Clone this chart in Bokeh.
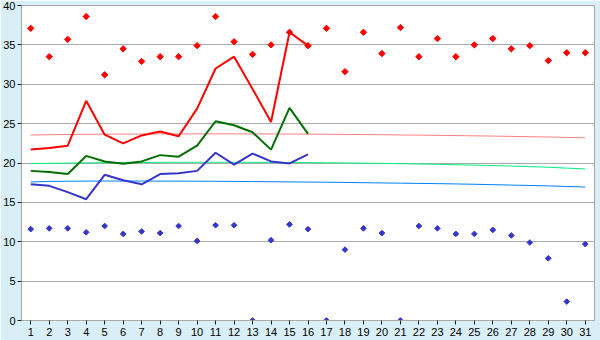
import math
from bokeh.plotting import figure
from bokeh.models import Range1d, FixedTicker
from bokeh.embed import file_html
from bokeh.resources import INLINE

days = list(range(1, 32))
line_days = list(range(1, 17))

max_temp = [37.1, 33.5, 35.7, 38.6, 31.2, 34.5, 32.9, 33.5, 33.5, 34.9,
            38.6, 35.4, 33.8, 35.0, 36.6, 34.9, 37.1, 31.6, 36.6, 33.9,
            37.2, 33.5, 35.8, 33.5, 35.0, 35.8, 34.5, 34.9, 33.0, 34.0, 34.0]
min_temp = [11.6, 11.7, 11.7, 11.2, 12.0, 11.0, 11.3, 11.1, 12.0, 10.1,
            12.1, 12.1, 0.0, 10.2, 12.2, 11.6, 0.0, 9.0, 11.7, 11.1,
            0.0, 12.0, 11.7, 11.0, 11.0, 11.5, 10.8, 9.9, 7.9, 2.4, 9.7]

red_line = [21.7, 21.9, 22.2, 27.9, 23.6, 22.5, 23.5, 24.0, 23.4, 26.9,
            32.0, 33.5, 29.4, 25.2, 36.6, 34.9]
green_line = [19.0, 18.85, 18.6, 20.9, 20.2, 19.9, 20.2, 21.0, 20.8, 22.2,
              25.3, 24.8, 23.9, 21.7, 27.0, 23.7]
blue_line = [17.3, 17.1, 16.3, 15.4, 18.5, 17.8, 17.3, 18.6, 18.7, 19.0,
             21.3, 19.8, 21.2, 20.2, 19.95, 21.1]

red_norm = [23.55, 23.59, 23.62, 23.64, 23.66, 23.67, 23.68, 23.69, 23.69, 23.70,
            23.70, 23.70, 23.69, 23.69, 23.68, 23.67, 23.65, 23.63, 23.61, 23.59,
            23.56, 23.54, 23.51, 23.48, 23.45, 23.42, 23.38, 23.34, 23.30, 23.25, 23.20]
green_norm = [19.93, 19.96, 19.99, 20.02, 20.04, 20.06, 20.07, 20.08, 20.09, 20.09,
              20.09, 20.09, 20.08, 20.07, 20.06, 20.05, 20.03, 20.01, 19.98, 19.95,
              19.91, 19.87, 19.83, 19.78, 19.73, 19.67, 19.61, 19.54, 19.46, 19.35, 19.25]
blue_norm = [17.60, 17.66, 17.69, 17.70, 17.71, 17.71, 17.71, 17.70, 17.70, 17.69,
             17.68, 17.66, 17.64, 17.62, 17.60, 17.58, 17.56, 17.53, 17.50, 17.47,
             17.44, 17.41, 17.38, 17.34, 17.30, 17.25, 17.20, 17.15, 17.09, 17.02, 16.95]

y_ticks = [0, 5, 10, 15, 20, 25, 30, 35, 40]

p = figure(width=600, height=340, output_backend="svg", toolbar_location=None,
           x_range=Range1d(0.5, 31.5), y_range=Range1d(0, 40),
           min_border_left=20, min_border_right=6, min_border_top=5, min_border_bottom=20)
p.border_fill_color = "#D9EFF7"
p.background_fill_color = "white"
p.outline_line_color = "#A8A8A8"
p.outline_line_width = 1

p.xaxis.ticker = FixedTicker(ticks=days)
p.yaxis.ticker = FixedTicker(ticks=y_ticks)
p.xgrid.grid_line_color = None
p.ygrid.grid_line_color = "#ABABAB"
p.ygrid.grid_line_width = 1

for ax in (p.xaxis[0], p.yaxis[0]):
    ax.axis_line_color = "#A8A8A8"
    ax.major_tick_line_color = "#202020"
    ax.major_tick_in = 0
    ax.major_tick_out = 4
    ax.minor_tick_line_color = None
    ax.major_label_text_font = "Liberation Sans"
    ax.major_label_text_font_size = "11px"
    ax.major_label_text_color = "black"
p.yaxis.major_label_standoff = 2
p.xaxis.major_label_standoff = 3

# normal (trend) lines
p.line(days, red_norm, line_color="#FF8080", line_width=1)
p.line(days, green_norm, line_color="#00F080", line_width=1)
p.line(days, blue_norm, line_color="#0080FF", line_width=1)

# daily lines
p.line(line_days, red_line, line_color="#FF0000", line_width=2)
p.line(line_days, green_line, line_color="#006E00", line_width=2)
p.line(line_days, blue_line, line_color="#3535CC", line_width=2)

# extreme markers (small diamonds)
p.scatter(days, max_temp, marker="square", angle=math.pi / 4, size=4.5,
          fill_color="#FF0000", line_color="#FF0000", line_width=1)
p.scatter(days, min_temp, marker="square", angle=math.pi / 4, size=4,
          fill_color="#3535CC", line_color="#3535CC", line_width=1)

open("out.html", "w").write(file_html(p, INLINE))
